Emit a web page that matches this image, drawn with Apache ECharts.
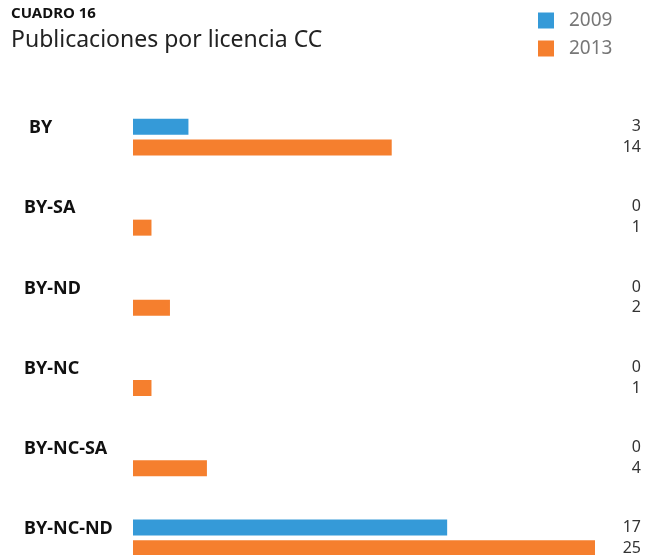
<html>
<head>
    <meta charset="utf-8">
    <title>Publicaciones por licencia CC</title>
    <script src="https://cdn.jsdelivr.net/npm/echarts@6/dist/echarts.min.js"></script>
    <style>
        body { margin: 0; background: #fff; }
    </style>
</head>
<body>
    <div id="main" style="width: 658px;height:555px;"></div>
</body>
<script type="text/javascript">
    var categories = ['BY', 'BY-SA', 'BY-ND', 'BY-NC', 'BY-NC-SA', 'BY-NC-ND'];
    var data2009 = [3, 0, 0, 0, 0, 17];
    var data2013 = [14, 1, 2, 1, 4, 25];
    var seriesNames = ['2009', '2013'];

    var myChart = echarts.init(document.getElementById('main'));

    // etiqueta de valor fija en la columna derecha
    function valueLabel() {
        return {
            show: true,
            position: [508, '50%'],
            align: 'right',
            verticalAlign: 'middle',
            color: '#333',
            fontSize: 16,
            fontFamily: 'Noto Sans'
        };
    }

    var option = {
        animation: false,
        title: [{
            text: 'CUADRO 16',
            left: 11,
            top: 6,
            padding: 0,
            textStyle: { fontSize: 15, fontWeight: 'bold', color: '#111', fontFamily: 'Noto Sans' }
        }, {
            text: 'Publicaciones por licencia CC',
            left: 11,
            top: 29,
            padding: 0,
            textStyle: { fontSize: 23, fontWeight: 'normal', color: '#222', fontFamily: 'Noto Sans' }
        }],
        legend: {
            data: seriesNames,
            orient: 'vertical',
            left: 538,
            top: 11,
            padding: 0,
            itemWidth: 16,
            itemHeight: 16,
            itemGap: 9,
            icon: 'rect',
            textStyle: { fontSize: 19, color: '#777', fontFamily: 'Noto Sans', padding: [0, 0, 0, 10] }
        },
        grid: {
            left: 133,
            width: 462,
            top: 97,
            height: 481,
            outerBoundsMode: 'none',
            containLabel: false
        },
        xAxis: {
            type: 'value',
            min: 0,
            max: 25,
            show: false
        },
        yAxis: {
            type: 'category',
            data: categories,
            inverse: true,
            axisLine: { show: false },
            axisTick: { show: false },
            axisLabel: {
                margin: 109,
                align: 'left',
                verticalAlign: 'middle',
                padding: [0, 0, 18, 0],
                fontSize: 18,
                fontWeight: 'bold',
                color: '#111',
                fontFamily: 'Noto Sans',
                formatter: function (v) {
                    return v === 'BY' ? '{by|' + v + '}' : v;
                },
                rich: {
                    by: { fontSize: 18, fontWeight: 'bold', color: '#111', fontFamily: 'Noto Sans', padding: [0, 0, 0, 5] }
                }
            }
        },
        series: [{
            name: seriesNames[0],
            type: 'bar',
            data: data2009,
            barWidth: 16,
            barGap: '30%',
            itemStyle: { color: '#359ad8' },
            label: valueLabel()
        }, {
            name: seriesNames[1],
            type: 'bar',
            data: data2013,
            barWidth: 16,
            itemStyle: { color: '#f57f2e' },
            label: valueLabel()
        }]
    };

    myChart.setOption(option);
</script>
</html>
